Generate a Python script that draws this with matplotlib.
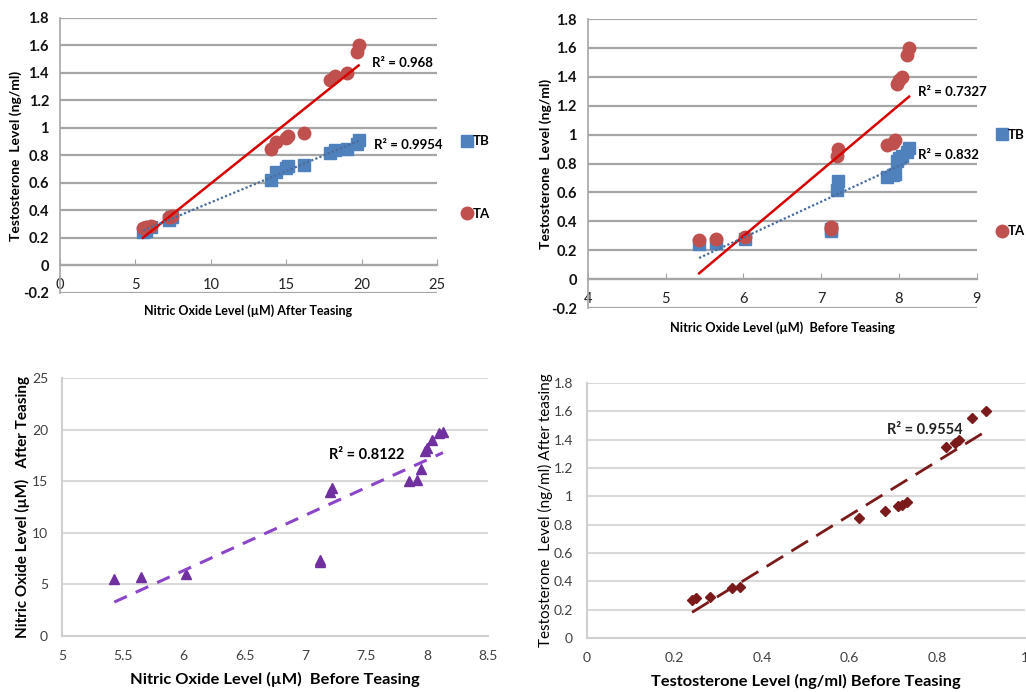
import numpy as np
import matplotlib
matplotlib.use("Agg")
import matplotlib.pyplot as plt

plt.rcParams['font.family'] = ['Lato', 'DejaVu Sans']

# ---- data (15 subjects) ----
no_before = [5.43, 5.65, 6.02, 7.12, 7.12, 7.20, 7.22, 7.85, 7.92, 7.95, 7.98, 8.00, 8.04, 8.10, 8.13]
no_after = [5.5, 5.7, 6.0, 7.2, 7.4, 14.0, 14.3, 15.0, 15.1, 16.2, 17.9, 18.2, 19.0, 19.7, 19.8]
t_before = [0.24, 0.25, 0.28, 0.33, 0.35, 0.62, 0.68, 0.71, 0.72, 0.73, 0.82, 0.84, 0.85, 0.88, 0.91]
t_after = [0.27, 0.28, 0.29, 0.35, 0.36, 0.85, 0.90, 0.93, 0.94, 0.96, 1.35, 1.38, 1.40, 1.55, 1.60]

r2_tl = ["R² = 0.968", "R² = 0.9954"]
r2_tr = ["R² = 0.7327", "R² = 0.832"]
r2_bl = "R² = 0.8122"
r2_br = "R² = 0.9554"

BLUE = '#4F81BD'
RED = '#C0504D'
TREND_RED = '#D60000'
TREND_BLUE = '#4A6C9B'
PURPLE = '#7030A0'
PURPLE_LINE = '#8A45C8'
MAROON = '#7B1A1A'

fig = plt.figure(figsize=(10.26, 6.92), dpi=100)

def trend(ax, x, y, **kw):
    x = np.asarray(x); y = np.asarray(y)
    m, b = np.polyfit(x, y, 1)
    xs = np.array([x.min(), x.max()])
    ax.plot(xs, m * xs + b, **kw)

def style_top(ax, xlim, xticks):
    ax.set_xlim(*xlim)
    ax.set_ylim(-0.2, 1.8)
    yt = np.round(np.arange(-0.2, 1.81, 0.2), 1)
    ax.set_yticks(yt)
    ax.set_yticklabels(['-0.2', '0', '0.2', '0.4', '0.6', '0.8', '1', '1.2', '1.4', '1.6', '1.8'])
    ax.set_xticks(xticks)
    ax.set_xticklabels([str(t) for t in xticks])
    ax.grid(axis='y', color='#A6A6A6', lw=1.6)
    ax.set_axisbelow(True)
    for s in ['top', 'right']:
        ax.spines[s].set_visible(False)
    ax.spines['bottom'].set_position(('data', 0))
    ax.spines['bottom'].set_color('#A6A6A6')
    ax.spines['bottom'].set_linewidth(1.6)
    ax.spines['left'].set_color('#A6A6A6')
    ax.spines['left'].set_linewidth(1.2)
    ax.tick_params(axis='x', direction='in', length=4, color='#A6A6A6', pad=9,
                   labelsize=10.5, labelcolor='#222222')
    ax.tick_params(axis='y', length=0, pad=8, labelsize=10.5, labelcolor='#111111')
    for lab in ax.get_yticklabels():
        lab.set_fontweight('bold')

# ---- top-left ----
ax1 = fig.add_axes([0.0585, 0.5766, 0.3675, 0.3974])
style_top(ax1, (0, 25), [0, 5, 10, 15, 20, 25])
ax1.plot(no_after, t_before, 's', color=BLUE, ms=8, label='TB', zorder=3)
ax1.plot(no_after, t_after, 'o', color=RED, ms=9, label='TA', zorder=3)
trend(ax1, no_after, t_after, color=TREND_RED, lw=1.8, zorder=4)
trend(ax1, no_after, t_before, color=TREND_BLUE, lw=1.6, ls=(0, (1, 1)), zorder=4)
ax1.text(22.7, 1.473, r2_tl[0], ha='center', va='center', fontsize=9.5, fontweight='bold')
ax1.text(23.1, 0.876, r2_tl[1], ha='center', va='center', fontsize=9.5, fontweight='bold')
ax1.set_ylabel('Testosterone  Level (ng/ml)', fontsize=10, fontweight='bold')
ax1.yaxis.set_label_coords(-0.10, 0.5)
ax1.set_xlabel('Nitric Oxide Level (µM) After Teasing', fontsize=9, fontweight='bold')
ax1.xaxis.set_label_coords(0.5, -0.04)
ax1.legend(loc='center left', bbox_to_anchor=(1.05, 0.42), frameon=False,
           labelspacing=4.6, handlelength=0.7, handletextpad=0.1, borderpad=0,
           prop={'weight': 'bold', 'size': 9.5})

# ---- top-right ----
ax2 = fig.add_axes([0.573, 0.5549, 0.379, 0.4176])
style_top(ax2, (4, 9), [4, 5, 6, 7, 8, 9])
ax2.plot(no_before, t_before, 's', color=BLUE, ms=8, label='TB', zorder=3)
ax2.plot(no_before, t_after, 'o', color=RED, ms=9, label='TA', zorder=3)
trend(ax2, no_before, t_after, color=TREND_RED, lw=1.8, zorder=4)
trend(ax2, no_before, t_before, color=TREND_BLUE, lw=1.6, ls=(0, (1, 1)), zorder=4)
ax2.text(8.69, 1.295, r2_tr[0], ha='center', va='center', fontsize=9.5, fontweight='bold')
ax2.text(8.63, 0.859, r2_tr[1], ha='center', va='center', fontsize=9.5, fontweight='bold')
ax2.set_ylabel('Testosterone  Level (ng/ml)', fontsize=10, fontweight='bold')
ax2.yaxis.set_label_coords(-0.093, 0.5)
ax2.set_xlabel('Nitric Oxide Level (µM)  Before Teasing', fontsize=9.2, fontweight='bold')
ax2.xaxis.set_label_coords(0.5, -0.045)
ax2.legend(loc='center left', bbox_to_anchor=(1.035, 0.432), frameon=False,
           labelspacing=6.4, handlelength=0.7, handletextpad=0.1, borderpad=0,
           prop={'weight': 'bold', 'size': 9.5})

def style_bottom(ax):
    ax.grid(axis='y', color='#D9D9D9', lw=1.5)
    ax.set_axisbelow(True)
    for s in ['top', 'right']:
        ax.spines[s].set_visible(False)
    for s in ['left', 'bottom']:
        ax.spines[s].set_color('#D0D0D0')
        ax.spines[s].set_linewidth(1.5)
    ax.tick_params(length=0, labelsize=10, labelcolor='#404040')
    ax.tick_params(axis='x', pad=10)
    ax.tick_params(axis='y', pad=10)

# ---- bottom-left ----
ax3 = fig.add_axes([0.0604, 0.0809, 0.4152, 0.3728])
style_bottom(ax3)
ax3.set_xlim(5, 8.5)
ax3.set_ylim(0, 25)
ax3.set_xticks([5, 5.5, 6, 6.5, 7, 7.5, 8, 8.5])
ax3.set_xticklabels(['5', '5.5', '6', '6.5', '7', '7.5', '8', '8.5'])
ax3.set_yticks([0, 5, 10, 15, 20, 25])
ax3.plot(no_before, no_after, '^', color=PURPLE, ms=7.5, zorder=3)
trend(ax3, no_before, no_after, color=PURPLE_LINE, lw=2.2, ls=(0, (4.5, 3.2)), zorder=4)
ax3.text(7.506, 17.54, r2_bl, ha='center', va='center', fontsize=10.5, fontweight='bold')
ax3.set_ylabel('Nitric Oxide Level (µM)   After Teasing', fontsize=11, fontweight='bold')
ax3.yaxis.set_label_coords(-0.075, 0.5)
ax3.set_xlabel('Nitric Oxide Level (µM)  Before Teasing', fontsize=11.8, fontweight='bold')
ax3.xaxis.set_label_coords(0.5, -0.14)

# ---- bottom-right ----
ax4 = fig.add_axes([0.5721, 0.078, 0.4269, 0.3685])
style_bottom(ax4)
ax4.set_xlim(0, 1)
ax4.set_ylim(0, 1.8)
ax4.set_xticks([0, 0.2, 0.4, 0.6, 0.8, 1])
ax4.set_xticklabels(['0', '0.2', '0.4', '0.6', '0.8', '1'])
ax4.set_yticks([0, 0.2, 0.4, 0.6, 0.8, 1, 1.2, 1.4, 1.6, 1.8])
ax4.set_yticklabels(['0', '0.2', '0.4', '0.6', '0.8', '1', '1.2', '1.4', '1.6', '1.8'])
ax4.plot(t_before, t_after, 'D', color=MAROON, ms=5.5, zorder=3)
trend(ax4, t_before, t_after, color=MAROON, lw=2.0, ls=(0, (7, 3.5)), zorder=4)
ax4.text(0.772, 1.468, r2_br, ha='center', va='center', fontsize=10.5, fontweight='bold',
         color='#222222')
ax4.set_ylabel('Testosterone  Level (ng/ml) After teasing', fontsize=11)
ax4.yaxis.set_label_coords(-0.078, 0.5)
ax4.set_xlabel('Testosterone Level (ng/ml) Before Teasing', fontsize=11.8, fontweight='bold')
ax4.xaxis.set_label_coords(0.5, -0.14)

fig.savefig('out.png', dpi=100)
